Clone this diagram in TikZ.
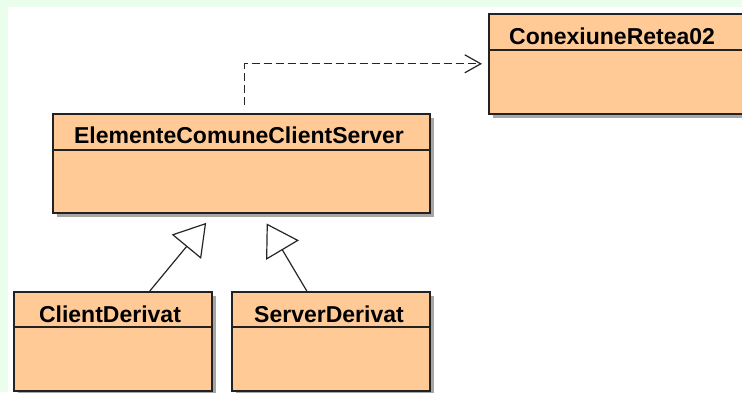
\documentclass[tikz,border=0pt]{standalone}
\usepackage{fontspec}
\setmainfont{Liberation Sans}
\usepackage{tikz}
\usetikzlibrary{arrows.meta, shadows}
\definecolor{classfill}{HTML}{FFCA96}
\definecolor{pagegreen}{HTML}{EBFEEB}
\definecolor{classedge}{HTML}{222222}

\tikzset{
    classbox/.style={draw=classedge, line width=1.6pt, fill=classfill, anchor=north west, inner sep=0pt,
        drop shadow={shadow xshift=4pt, shadow yshift=-4pt, fill=black, opacity=0.35}},
    classname/.style={font=\bfseries\fontsize{23}{23}\selectfont, anchor=base, inner sep=0pt},
    classline/.style={draw=classedge, line width=1.3pt},
    generalization/.style={draw=black!85, line width=1.2pt, -{Triangle[open, length=31pt, width=38pt, line width=1.2pt]}},
    dependency/.style={draw=black!85, line width=1.2pt, dash pattern=on 8pt off 4pt,
        -{Straight Barb[length=16pt, width=18pt, line width=1.2pt]}}
}

\begin{document}
\begin{tikzpicture}[x=1pt, y=-1pt]
    \useasboundingbox (0,0) rectangle (742,392);
    \fill[pagegreen] (0,0) rectangle (742,392);
    \fill[white] (8,7) rectangle (742,392);

    \node[classbox, minimum width=262pt, minimum height=100pt] (cr) at (488,13) {};
    \node[classname, anchor=base west] (cr-name) at (509,44) {ConexiuneRetea02};
    \draw[classline] ([yshift=-37pt]cr.north west) -- ([yshift=-37pt]cr.north east);

    \node[classbox, minimum width=377pt, minimum height=99pt] (ecs) at (52,113) {};
    \node[classname] (ecs-name) at (239,143) {ElementeComuneClientServer};
    \draw[classline] ([yshift=-37pt]ecs.north west) -- ([yshift=-37pt]ecs.north east);

    \node[classbox, minimum width=198pt, minimum height=99pt] (cd) at (13,291) {};
    \node[classname] (cd-name) at (110,322) {ClientDerivat};
    \draw[classline] ([yshift=-36pt]cd.north west) -- ([yshift=-36pt]cd.north east);

    \node[classbox, minimum width=198pt, minimum height=99pt] (sd) at (231,291) {};
    \node[classname] (sd-name) at (329,322) {ServerDerivat};
    \draw[classline] ([yshift=-36pt]sd.north west) -- ([yshift=-36pt]sd.north east);

    \draw[dependency, shorten <=8pt, shorten >=6pt] ([xshift=3.5pt]ecs.north) |- (cr.west);
    \draw[generalization, shorten >=12pt] ([xshift=37pt]cd.north) -- ([xshift=-27.5pt]ecs.south);
    \draw[generalization, shorten >=11.5pt] ([xshift=-24pt]sd.north) -- ([xshift=19.5pt]ecs.south);
\end{tikzpicture}
\end{document}
